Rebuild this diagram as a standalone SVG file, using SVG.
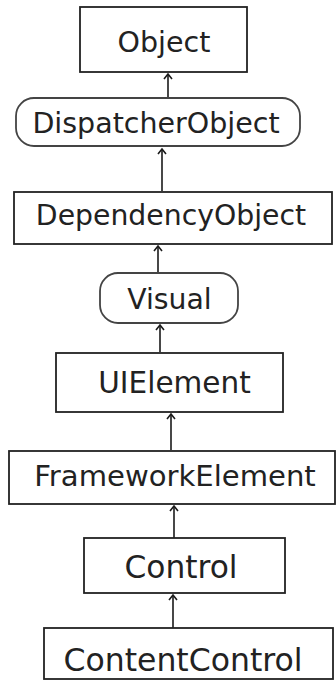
<svg xmlns="http://www.w3.org/2000/svg" width="336" height="681" viewBox="0 0 336 681">
<defs>
<marker id="ah" markerWidth="12" markerHeight="12" refX="6" refY="6" orient="auto" markerUnits="userSpaceOnUse">
<path d="M1,2 L6,6 L1,10" fill="none" stroke="#1a1a1a" stroke-width="1.6"/>
</marker>
</defs>
<style>
.box{fill:#fff;stroke:#222;stroke-width:1.8}
.rnd{fill:#fff;stroke:#444;stroke-width:1.8}
.t{font-family:"DejaVu Sans",Verdana,sans-serif;fill:#222;text-anchor:middle}
.c{stroke:#1a1a1a;stroke-width:1.6;fill:none;marker-end:url(#ah)}
</style>
<rect width="336" height="681" fill="#fff"/>
<g id="connectors">
<line class="c" x1="168" y1="97" x2="168" y2="74"/>
<line class="c" x1="162" y1="191" x2="162" y2="149"/>
<line class="c" x1="158" y1="272" x2="158" y2="246"/>
<line class="c" x1="160" y1="352" x2="160" y2="325"/>
<line class="c" x1="171" y1="450" x2="171" y2="414"/>
<line class="c" x1="174" y1="538" x2="174" y2="506"/>
<line class="c" x1="173" y1="628" x2="173" y2="595"/>
</g>
<g id="Object">
<rect class="box" x="80" y="7" width="167" height="65"/>
<text class="t" x="164" y="52" font-size="28.5">Object</text>
</g>
<g id="DispatcherObject">
<rect class="rnd" x="16" y="98" width="284" height="48" rx="18" ry="18"/>
<text class="t" x="156" y="133" font-size="28.5">DispatcherObject</text>
</g>
<g id="DependencyObject">
<rect class="box" x="14" y="192" width="318" height="52"/>
<text class="t" x="171" y="225" font-size="28.3">DependencyObject</text>
</g>
<g id="Visual">
<rect class="rnd" x="100" y="273" width="138" height="50" rx="18" ry="18"/>
<text class="t" x="169.5" y="309" font-size="28.3">Visual</text>
</g>
<g id="UIElement">
<rect class="box" x="56" y="353" width="227" height="59"/>
<text class="t" x="174.5" y="393" font-size="29.5">UIElement</text>
</g>
<g id="FrameworkElement">
<rect class="box" x="9" y="451" width="326" height="53"/>
<text class="t" x="175" y="486" font-size="29.1">FrameworkElement</text>
</g>
<g id="Control">
<rect class="box" x="84" y="538" width="201" height="55"/>
<text class="t" x="181" y="578" font-size="31.3">Control</text>
</g>
<g id="ContentControl">
<rect class="box" x="44" y="628" width="289" height="51"/>
<text class="t" x="183" y="671" font-size="31.5">ContentControl</text>
</g>
</svg>
